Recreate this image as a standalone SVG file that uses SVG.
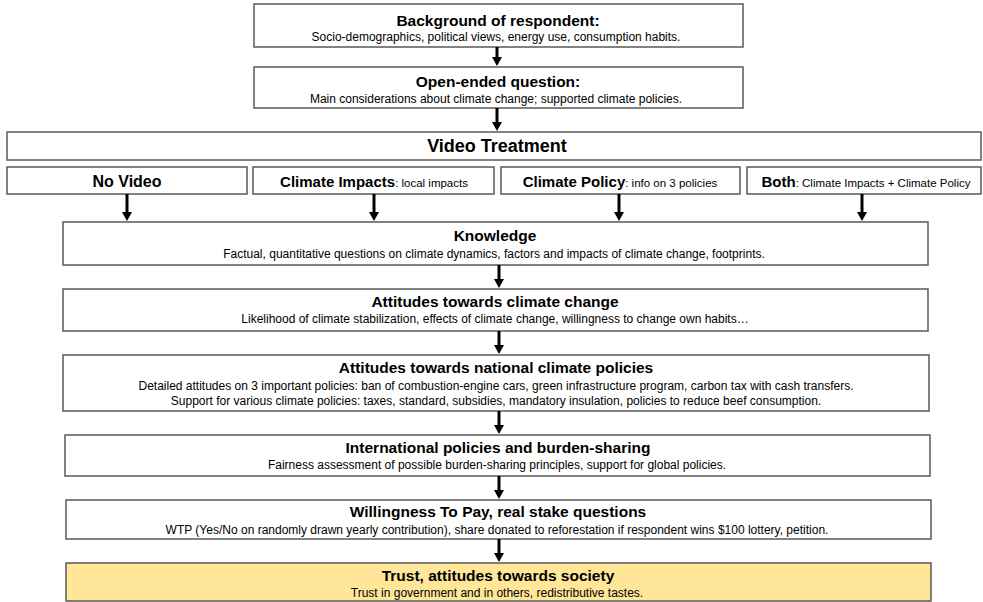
<svg xmlns="http://www.w3.org/2000/svg" width="983" height="602" viewBox="0 0 983 602">
<style>
.box{fill:#fff;stroke:#595959;stroke-width:1.5}
.hl{fill:#FFE699;stroke:#595959;stroke-width:1.5}
text{font-family:"Liberation Sans",Arial,sans-serif;fill:#000;text-anchor:middle}
.t{font-size:15.5px;font-weight:bold}
.s{font-size:12px}
.tb{font-size:15px;font-weight:bold}
.sm{font-size:11.5px;font-weight:normal}
.conn{stroke:#000;stroke-width:3;fill:none;marker-end:url(#ah)}
</style>
<defs>
<marker id="ah" markerUnits="userSpaceOnUse" markerWidth="12" markerHeight="12" refX="0" refY="6" orient="auto" viewBox="0 0 12 12">
<path d="M0,1 L9,6 L0,11 z" fill="#000"/>
</marker>
</defs>
<rect width="983" height="602" fill="#fff"/>
<g id="background">
<rect class="box" x="254" y="4" width="489" height="43"/>
<text class="t" x="498" y="26">Background of respondent:</text>
<text class="s" x="496" y="41">Socio-demographics, political views, energy use, consumption habits.</text>
</g>
<g id="open-ended">
<rect class="box" x="254" y="67" width="489" height="41"/>
<text class="t" x="498" y="87">Open-ended question:</text>
<text class="s" x="496" y="103">Main considerations about climate change; supported climate policies.</text>
</g>
<g id="video-treatment">
<rect class="box" x="7" y="132" width="974" height="28"/>
<text x="497" y="152" style="font-size:18px;font-weight:bold">Video Treatment</text>
</g>
<g id="no-video">
<rect class="box" x="7" y="167" width="240" height="27"/>
<text class="tb" x="127" y="187" style="font-size:16px">No Video</text>
</g>
<g id="climate-impacts">
<rect class="box" x="253" y="167" width="241" height="27"/>
<text class="tb" x="374" y="187">Climate Impacts<tspan class="sm">: local impacts</tspan></text>
</g>
<g id="climate-policy">
<rect class="box" x="501" y="167" width="239" height="27"/>
<text class="tb" x="620" y="187">Climate Policy<tspan class="sm">: info on 3 policies</tspan></text>
</g>
<g id="both">
<rect class="box" x="747" y="167" width="234" height="27"/>
<text class="tb" x="866" y="187">Both<tspan class="sm">: Climate Impacts + Climate Policy</tspan></text>
</g>
<g id="knowledge">
<rect class="box" x="63" y="222" width="865" height="43"/>
<text class="t" x="495" y="241">Knowledge</text>
<text class="s" x="494" y="258">Factual, quantitative questions on climate dynamics, factors and impacts of climate change, footprints.</text>
</g>
<g id="attitudes-cc">
<rect class="box" x="63" y="289" width="865" height="42"/>
<text class="t" x="495" y="307">Attitudes towards climate change</text>
<text class="s" x="495" y="323">Likelihood of climate stabilization, effects of climate change, willingness to change own habits…</text>
</g>
<g id="national-policies">
<rect class="box" x="63" y="355" width="866" height="56"/>
<text class="t" x="496" y="373">Attitudes towards national climate policies</text>
<text class="s" x="496" y="390">Detailed attitudes on 3 important policies: ban of combustion-engine cars, green infrastructure program, carbon tax with cash transfers.</text>
<text class="s" x="496" y="405">Support for various climate policies: taxes, standard, subsidies, mandatory insulation, policies to reduce beef consumption.</text>
</g>
<g id="international">
<rect class="box" x="65" y="435" width="865" height="41"/>
<text class="t" x="498" y="453">International policies and burden-sharing</text>
<text class="s" x="497" y="469">Fairness assessment of possible burden-sharing principles, support for global policies.</text>
</g>
<g id="wtp">
<rect class="box" x="66" y="500" width="865" height="39"/>
<text class="t" x="498" y="517">Willingness To Pay, real stake questions</text>
<text class="s" x="497" y="534">WTP (Yes/No on randomly drawn yearly contribution), share donated to reforestation if respondent wins $100 lottery, petition.</text>
</g>
<g id="trust">
<rect class="hl" x="66" y="563" width="865" height="38"/>
<text class="t" x="498" y="581">Trust, attitudes towards society</text>
<text class="s" x="497" y="597">Trust in government and in others, redistributive tastes.</text>
</g>
<g id="connectors">
<line class="conn" x1="497" y1="47" x2="497" y2="57"/>
<line class="conn" x1="497" y1="108" x2="497" y2="122"/>
<line class="conn" x1="127" y1="194" x2="127" y2="212"/>
<line class="conn" x1="374" y1="194" x2="374" y2="212"/>
<line class="conn" x1="619" y1="194" x2="619" y2="212"/>
<line class="conn" x1="862" y1="194" x2="862" y2="212"/>
<line class="conn" x1="499" y1="265" x2="499" y2="279"/>
<line class="conn" x1="499" y1="331" x2="499" y2="345"/>
<line class="conn" x1="499" y1="411" x2="499" y2="425"/>
<line class="conn" x1="499" y1="476" x2="499" y2="490"/>
<line class="conn" x1="499" y1="539" x2="499" y2="553"/>
</g>
</svg>
